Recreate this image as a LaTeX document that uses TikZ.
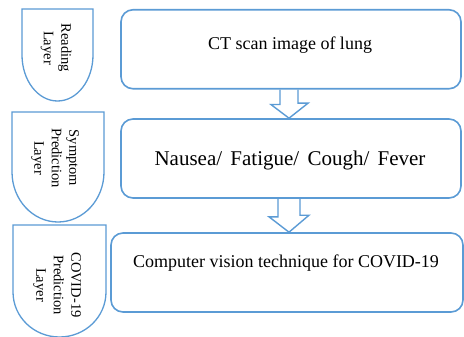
\documentclass[tikz,border=0pt]{standalone}
\usepackage{fontspec}
\setmainfont{Liberation Serif}
\usetikzlibrary{calc}
\definecolor{lineblue}{HTML}{5B9BD5}
\begin{document}
\begin{tikzpicture}[x=1pt,y=-1pt,
  box/.style={draw=lineblue, line width=1.6pt, rounded corners=12pt, inner sep=0pt, minimum height=79pt},
  maintext/.style={font=\fontsize{18}{22}\selectfont, inner sep=0pt},
  tagline/.style={draw=lineblue, line width=1.3pt},
  tagtext/.style={font=\fontsize{14.5}{17.5}\selectfont, align=center, rotate=-90, inner sep=0pt},
  barrow/.style={draw=lineblue, line width=1.4pt, line join=miter}]
\fill[white] (0,0) rectangle (464,337);
\useasboundingbox (0,0) rectangle (464,337);

% main boxes
\node[box, minimum width=340pt] (b1) at (291,49.25) {};
\node[box, minimum width=340pt] (b2) at (291,158.5) {};
\node[box, minimum width=352pt] (b3) at (287,272.5) {};
\node[maintext] (t1) at (290,45) {CT scan image of lung};
\node[maintext, font=\fontsize{21}{25}\selectfont] (t2) at (290,160) {Nausea/\hspace{3pt} Fatigue/\hspace{3pt} Cough/\hspace{3pt} Fever};
\node[maintext] (t3) at (286,263) {Computer vision technique for COVID-19};

% tags
\draw[tagline] (22,9) -- (93,9) -- (93,55) .. controls (93,80.4) and (77.1,101) .. (57.5,101)
  .. controls (37.9,101) and (22,80.4) .. (22,55) -- cycle;
\draw[tagline] (12,112) -- (104,112) -- (104,172) .. controls (104,199.6) and (83.4,222) .. (58,222)
  .. controls (32.6,222) and (12,199.6) .. (12,172) -- cycle;
\draw[tagline] (13,225) -- (106,225) -- (106,292) .. controls (106,316.9) and (85.2,337) .. (59.5,337)
  .. controls (33.8,337) and (13,316.9) .. (13,292) -- cycle;
\node[tagtext] (l1) at (56,48) {Reading\\Layer};
\node[tagtext] (l2) at (55,158) {Symptom\\Prediction\\Layer};
\node[tagtext] (l3) at (57,285) {COVID-19\\Prediction\\Layer};

% block arrows
\draw[barrow] ($(b1.south)+(-11,0)$) -- ++(0,15) -- ++(-9,0) -- ($(b2.north)+(-2,0)$)
  -- ++(19,-15) -- ++(-10,0) -- ($(b1.south)+(7,0)$);
\draw[barrow] ($(b2.south)+(-13,0)$) -- ++(0,18) -- ++(-9,0) -- ($(b3.north)+(2,0)$)
  -- ++(20,-17) -- ++(-9,0) -- ($(b2.south)+(9,0)$);
\end{tikzpicture}
\end{document}
